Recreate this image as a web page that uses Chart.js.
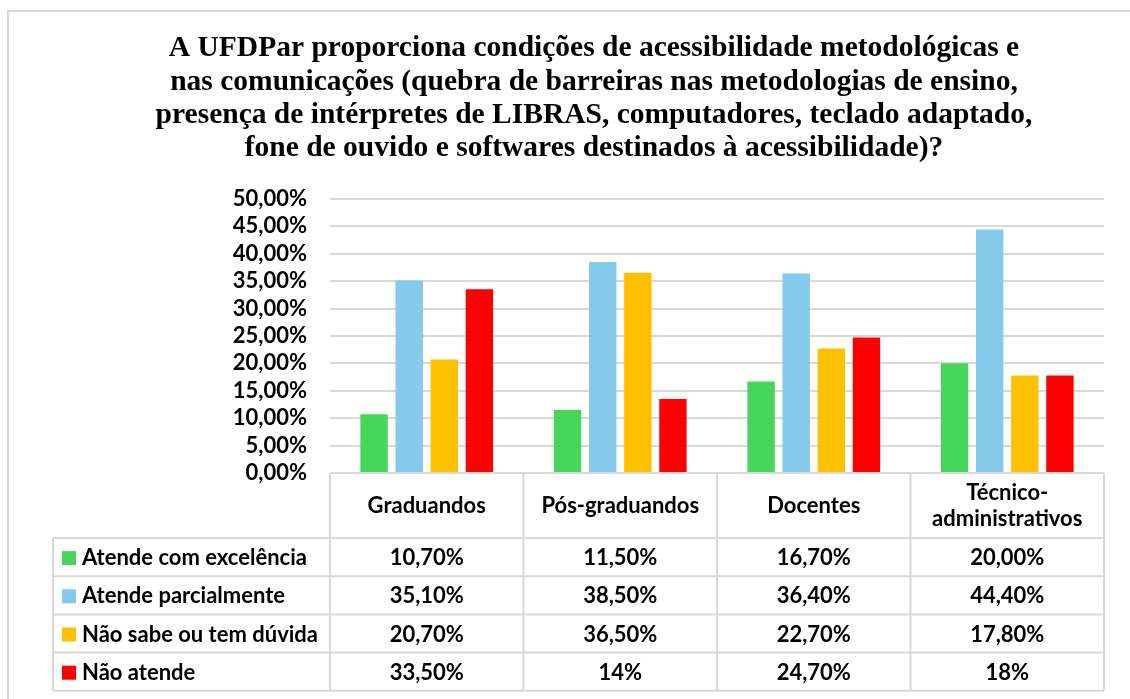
<!DOCTYPE html>
<html>
<head>
<meta charset="utf-8">
<script src="https://cdn.jsdelivr.net/npm/chart.js@4"></script>
<style>
  body { margin: 0; background: #fff; }
  #wrap { width: 1130px; height: 699px; }
</style>
</head>
<body>
<div id="wrap"><canvas id="myChart" width="1130" height="699"></canvas></div>
<script>
var titleLines = [
  "A UFDPar proporciona condições de acessibilidade metodológicas e",
  "nas comunicações (quebra de barreiras nas metodologias de ensino,",
  "presença de intérpretes de LIBRAS, computadores, teclado adaptado,",
  "fone de ouvido e softwares destinados à acessibilidade)?"
];

let categories = ["Graduandos", "Pós-graduandos", "Docentes", ["Técnico-", "administrativos"]];
let seriesNames = ["Atende com excelência", "Atende parcialmente", "Não sabe ou tem dúvida", "Não atende"];

let excelencia = [10.7, 11.5, 16.7, 20.0];
let parcialmente = [35.1, 38.5, 36.4, 44.4];
let naoSabe = [20.7, 36.5, 22.7, 17.8];
let naoAtende = [33.5, 13.5, 24.7, 17.8];

// decimals shown in the data table (Excel cell formats)
let excelenciaDec = [2, 2, 2, 2];
let parcialmenteDec = [2, 2, 2, 2];
let naoSabeDec = [2, 2, 2, 2];
let naoAtendeDec = [2, 0, 2, 0];

let yTicks = [0, 5, 10, 15, 20, 25, 30, 35, 40, 45, 50];

const barColors = ["#47d65b", "#85c9eb", "#ffc000", "#ff0000"];
const gridColor = "#d9d9d9";
const mainFont = "Lato";

function pct(v, d) {
  return v.toFixed(d).replace(".", ",") + "%";
}

var seriesData = [excelencia, parcialmente, naoSabe, naoAtende];
var seriesDec = [excelenciaDec, parcialmenteDec, naoSabeDec, naoAtendeDec];

// border of the whole chart object
const frame = {
  id: "frame",
  beforeDraw(chart) {
    const ctx = chart.ctx;
    ctx.save();
    ctx.strokeStyle = gridColor;
    ctx.lineWidth = 2;
    ctx.strokeRect(8, 11, 1140, 720);
    ctx.restore();
  }
};

// data table under the plot, Excel style
const dataTable = {
  id: "dataTable",
  afterDraw(chart) {
    const ctx = chart.ctx;
    const area = chart.chartArea;
    const xs = chart.scales.x;
    const n = categories.length;
    const colW = (area.right - area.left) / n;
    const tableLeft = 53;
    const headTop = area.bottom;
    const headBottom = 538;
    const rowH = 38.2;
    const bottom = headBottom + rowH * seriesNames.length;

    ctx.save();
    ctx.strokeStyle = gridColor;
    ctx.lineWidth = 2;
    ctx.beginPath();
    ctx.moveTo(area.left, headTop);
    ctx.lineTo(area.right, headTop);
    for (let r = 0; r <= seriesNames.length; r++) {
      const y = headBottom + r * rowH;
      ctx.moveTo(tableLeft, y);
      ctx.lineTo(area.right, y);
    }
    ctx.moveTo(tableLeft, headBottom);
    ctx.lineTo(tableLeft, bottom);
    for (let c = 0; c <= n; c++) {
      const x = area.left + c * colW;
      ctx.moveTo(x, headTop);
      ctx.lineTo(x, bottom);
    }
    ctx.stroke();

    ctx.fillStyle = "#000";
    ctx.font = "bold 22px " + mainFont;
    ctx.textBaseline = "middle";
    ctx.textAlign = "center";

    // header
    const headMid = (headTop + headBottom) / 2;
    categories.forEach(function (cat, i) {
      const cx = xs.getPixelForValue(i);
      const lines = Array.isArray(cat) ? cat : [cat];
      const lh = 26;
      lines.forEach(function (line, k) {
        ctx.fillText(line, cx, headMid + (k - (lines.length - 1) / 2) * lh);
      });
    });

    // rows
    seriesNames.forEach(function (name, r) {
      const cy = headBottom + r * rowH + rowH / 2 + 1;
      ctx.fillStyle = barColors[r];
      ctx.fillRect(62, cy - 7, 14, 14);
      ctx.fillStyle = "#000";
      ctx.textAlign = "left";
      ctx.fillText(name, 82, cy);
      ctx.textAlign = "center";
      seriesData[r].forEach(function (v, i) {
        ctx.fillText(pct(v, seriesDec[r][i]), xs.getPixelForValue(i), cy);
      });
    });
    ctx.restore();
  }
};

new Chart("myChart", {
  type: "bar",
  data: {
    labels: categories,
    datasets: seriesNames.map(function (name, i) {
      return {
        label: name,
        data: seriesData[i],
        backgroundColor: barColors[i],
        categoryPercentage: 0.726,
        barPercentage: 0.78
      };
    })
  },
  options: {
    responsive: false,
    animation: false,
    layout: { padding: { left: 84, right: 26, top: 0, bottom: 0 } },
    plugins: {
      legend: { display: false },
      tooltip: { enabled: false },
      title: {
        display: true,
        text: titleLines,
        color: "#000",
        font: { family: "Liberation Serif", size: 29.5, weight: "bold", lineHeight: 1.13 },
        padding: { top: 32, bottom: 33.5 }
      }
    },
    scales: {
      x: {
        grid: { display: false },
        border: { display: false },
        ticks: { display: false },
        afterFit: function (scale) { scale.height = 699 - 473; }
      },
      y: {
        min: 0,
        max: 50,
        afterBuildTicks: function (scale) {
          scale.ticks = yTicks.map(function (v) { return { value: v }; });
        },
        grid: { color: gridColor, lineWidth: 2, drawTicks: false },
        border: { display: false },
        ticks: {
          color: "#000",
          padding: 23,
          autoSkip: false,
          font: { family: mainFont, size: 22, weight: "bold" },
          callback: function (v) { return pct(v, 2); }
        },
        afterFit: function (scale) { scale.width = 330 - 84; }
      }
    }
  },
  plugins: [frame, dataTable]
});
</script>
</body>
</html>
